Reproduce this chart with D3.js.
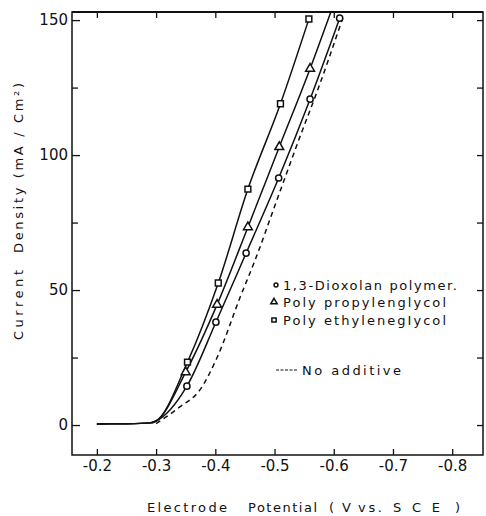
<!DOCTYPE html>
<html>
<head>
<script src="https://d3js.org/d3.v7.min.js"></script>
<style type="text/css">
body { margin:0; background:#fff; }
svg { display:block; }
.tick text { font-family:"DejaVu Sans", sans-serif; font-size:15px; fill:#111; }
.tick line { stroke:#111; stroke-width:1.3; }
.curve { fill:none; stroke:#111; stroke-width:1.5; }
.mark { fill:#fff; stroke:#111; stroke-width:1.5; }
.lbl { font-family:"DejaVu Sans", sans-serif; fill:#111; }
</style>
</head>
<body>
<svg id="chart"></svg>
<script>
// values (potential in V vs SCE, current in mA/cm2)
var dioxolanV = [-0.20, -0.25, -0.29, -0.30, -0.352, -0.401, -0.452, -0.507, -0.560, -0.610];
var dioxolanI = [0.4, 0.5, 0.8, 1.5, 14.4, 38.1, 63.7, 91.5, 120.7, 150.7];
var ppgV = [-0.20, -0.25, -0.29, -0.30, -0.350, -0.403, -0.455, -0.508, -0.560, -0.595];
var ppgI = [0.4, 0.5, 0.8, 1.5, 19.6, 44.6, 73.3, 103, 132, 153];
var pegV = [-0.20, -0.25, -0.29, -0.30, -0.353, -0.405, -0.455, -0.510, -0.558];
var pegI = [0.4, 0.5, 0.8, 1.5, 23.3, 52.6, 87.4, 119, 150.4];
var noAddV = [-0.30, -0.34, -0.374, -0.403, -0.442, -0.467, -0.505, -0.545, -0.571, -0.615];
var noAddI = [0.5, 6.7, 13, 25, 47.4, 61, 84, 108, 123, 150.7];

var xTicks = [-0.2, -0.3, -0.4, -0.5, -0.6, -0.7, -0.8];
var yTicks = [0, 50, 100, 150];
var yMinor = [25, 75, 125];
var legendNames = ["1,3-Dioxolan polymer.", "Poly propylenglycol", "Poly ethylenegIycol", "No additive"];

var width = 486, height = 516;
var svg = d3.select("#chart").attr("width", width).attr("height", height);

var x = d3.scaleLinear().domain([-0.158, -0.852]).range([72, 483]);
var y = d3.scaleLinear().domain([-11.1, 153]).range([455, 12]);

// frame
svg.append("rect")
  .attr("x", x.range()[0]).attr("y", y.range()[1])
  .attr("width", x.range()[1] - x.range()[0])
  .attr("height", y.range()[0] - y.range()[1])
  .attr("fill", "none").attr("stroke", "#111").attr("stroke-width", 1.5);
svg.append("line")
  .attr("x1", x.range()[0]).attr("x2", x.range()[1])
  .attr("y1", y.range()[1]).attr("y2", y.range()[1])
  .attr("stroke", "#111").attr("stroke-width", 2.2);

// axes, ticks pointing inwards
svg.append("g").attr("transform", "translate(0," + y.range()[0] + ")")
  .call(d3.axisBottom(x).tickValues(xTicks).tickSize(-6).tickPadding(5)
    .tickFormat(function(d) { return "-" + d3.format(".1f")(-d); }));
svg.append("g").attr("transform", "translate(0," + y.range()[1] + ")")
  .call(d3.axisTop(x).tickValues(xTicks).tickSize(-6).tickFormat(""));
svg.append("g").attr("transform", "translate(" + x.range()[0] + ",0)")
  .call(d3.axisLeft(y).tickValues(yTicks).tickSize(-8).tickPadding(4));
svg.append("g").attr("transform", "translate(" + x.range()[0] + ",0)")
  .call(d3.axisLeft(y).tickValues(yMinor).tickSize(-6).tickFormat(""));
svg.append("g").attr("transform", "translate(" + x.range()[1] + ",0)")
  .call(d3.axisRight(y).tickValues(yTicks.concat(yMinor)).tickSize(-6).tickFormat(""));
svg.selectAll(".domain").remove();

// curves
function pts(vs, is) { return vs.map(function(v, i) { return [v, is[i]]; }); }
var line = d3.line()
  .x(function(d) { return x(d[0]); })
  .y(function(d) { return y(d[1]); })
  .curve(d3.curveMonotoneX);

var series = [
  {data: pts(dioxolanV, dioxolanI), mark: "circle"},
  {data: pts(ppgV, ppgI), mark: "triangle"},
  {data: pts(pegV, pegI), mark: "square"}
];

svg.append("path").attr("class", "curve")
  .attr("d", line(pts(noAddV, noAddI)))
  .attr("stroke-dasharray", "5,4").attr("stroke-width", 1.3);

series.forEach(function(s) {
  svg.append("path").attr("class", "curve").attr("d", line(s.data));
});

var symbols = {circle: d3.symbolCircle, triangle: d3.symbolTriangle, square: d3.symbolSquare};
var sizes = {circle: 30, triangle: 34, square: 34};

series.forEach(function(s) {
  var m = s.data.filter(function(d) { return d[0] <= -0.34 && d[1] <= 151; });
  svg.selectAll(null).data(m).enter().append("path")
    .attr("class", "mark")
    .attr("d", d3.symbol().type(symbols[s.mark]).size(sizes[s.mark]))
    .attr("transform", function(d) { return "translate(" + x(d[0]) + "," + y(d[1]) + ")"; });
});

// legend
var lg = svg.append("g");
var legendRows = [
  {mark: "circle", mx: 276, tx: 283, ty: 290, len: 174},
  {mark: "triangle", mx: 274, tx: 283, ty: 307, len: 163},
  {mark: "square", mx: 274, tx: 283, ty: 325, len: 163}
];
legendRows.forEach(function(r, i) {
  lg.append("path").attr("class", "mark").attr("stroke-width", 1.1)
    .attr("d", d3.symbol().type(symbols[r.mark]).size(r.mark == "circle" ? 12 : 18))
    .attr("transform", "translate(" + r.mx + "," + (r.ty - 5) + ")");
  lg.append("text").attr("class", "lbl")
    .attr("x", r.tx).attr("y", r.ty)
    .attr("font-size", 13)
    .attr("textLength", r.len).attr("lengthAdjust", "spacing")
    .text(legendNames[i]);
});
lg.append("line")
  .attr("x1", 276).attr("x2", 297).attr("y1", 370).attr("y2", 370)
  .attr("stroke", "#111").attr("stroke-width", 1.1).attr("stroke-dasharray", "3,1.5");
lg.append("text").attr("class", "lbl")
  .attr("x", 302).attr("y", 375).attr("font-size", 13)
  .attr("textLength", 99).attr("lengthAdjust", "spacing")
  .text(legendNames[3]);

// axis titles
var xt = [
  {t: "Electrode", x: 147, len: 80},
  {t: "Potential", x: 248, len: 69},
  {t: "(", x: 329, len: 0},
  {t: "V", x: 342, len: 0},
  {t: "vs.", x: 358, len: 24},
  {t: "SCE", x: 393, len: 47},
  {t: ")", x: 455, len: 0}
];
xt.forEach(function(d) {
  var t = svg.append("text").attr("class", "lbl")
    .attr("x", d.x).attr("y", 512).attr("font-size", 13)
    .text(d.t);
  if (d.len) t.attr("textLength", d.len).attr("lengthAdjust", "spacing");
});

var yt = [
  {t: "Current", y0: 340, len: 70},
  {t: "Density (mA / Cm²)", y0: 253, len: 170}
];
yt.forEach(function(d) {
  svg.append("text").attr("class", "lbl")
    .attr("transform", "translate(23," + d.y0 + ") rotate(-90)")
    .attr("font-size", 13)
    .attr("textLength", d.len).attr("lengthAdjust", "spacing")
    .text(d.t);
});
</script>
</body>
</html>
